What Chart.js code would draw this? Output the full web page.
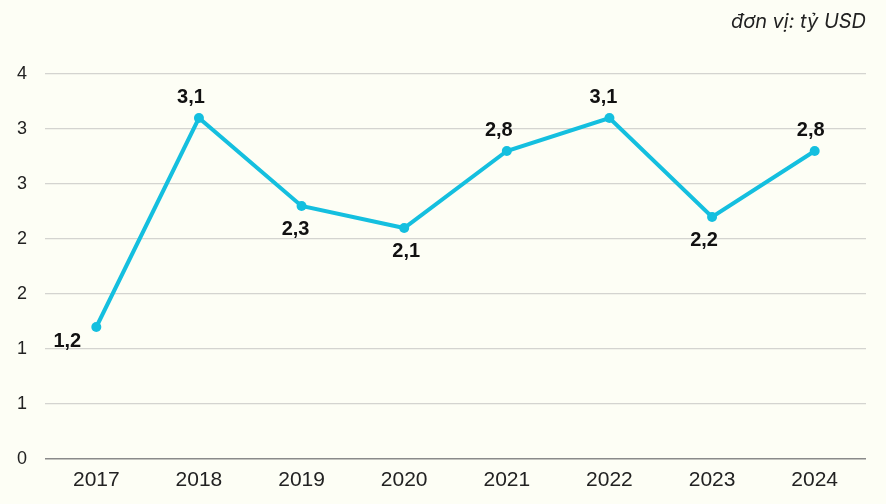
<!DOCTYPE html>
<html>
<head>
<meta charset="utf-8">
<script src="https://cdn.jsdelivr.net/npm/chart.js@4"></script>
<style>
html,body{margin:0;padding:0;background:#FDFEF5;}
#wrap{position:relative;width:886px;height:504px;}
</style>
</head>
<body>
<div id="wrap"><canvas id="c" width="886" height="504"></canvas></div>
<script>
const categories = ['2017','2018','2019','2020','2021','2022','2023','2024'];
const values = [1.2, 3.1, 2.3, 2.1, 2.8, 3.1, 2.2, 2.8];
const labelSides = ['left','top','bottom','bottom','top','top','bottom','top'];
const unitText = 'đơn vị: tỷ USD';

const bgPlugin = {
  id: 'bg',
  beforeDraw(chart) {
    const ctx = chart.ctx;
    ctx.save();
    ctx.fillStyle = '#FDFEF5';
    ctx.fillRect(0, 0, chart.width, chart.height);
    ctx.restore();
  }
};

const valueLabels = {
  id: 'valueLabels',
  afterDatasetsDraw(chart, args, opts) {
    const ctx = chart.ctx;
    const meta = chart.getDatasetMeta(0);
    const nudge = opts.nudge || [];
    ctx.save();
    ctx.font = 'bold 20px "Liberation Sans", Arial, sans-serif';
    ctx.fillStyle = '#111';
    ctx.textAlign = 'center';
    ctx.textBaseline = 'middle';
    meta.data.forEach((pt, i) => {
      const txt = values[i].toFixed(1).replace('.', ',');
      let x = pt.x + (nudge[i] || 0), y = pt.y;
      const side = labelSides[i];
      if (side === 'top') y -= 21;
      else if (side === 'bottom') y += 23;
      else if (side === 'left') y += 14;
      ctx.fillText(txt, x, y);
    });
    ctx.restore();
  }
};

new Chart(document.getElementById('c'), {
  type: 'line',
  data: {
    labels: categories,
    datasets: [{
      data: values,
      borderColor: '#14BFDF',
      backgroundColor: '#14BFDF',
      borderWidth: 4,
      pointRadius: 5,
      pointHoverRadius: 5,
      pointBackgroundColor: '#14BFDF',
      pointBorderWidth: 0,
      tension: 0
    }]
  },
  options: {
    responsive: false,
    animation: false,
    layout: { padding: { left: 0, right: 20, top: 0, bottom: 0 } },
    plugins: {
      legend: { display: false },
      tooltip: { enabled: false },
      valueLabels: { nudge: [-29, -8, -6, 2, -8, -6, -8, -4] },
      title: {
        display: true,
        text: unitText,
        align: 'end',
        color: '#222',
        font: { family: 'Inter, "Open Sans", "Liberation Sans", Arial, sans-serif', size: 20, style: 'italic', weight: 'normal' },
        padding: { top: 10, bottom: 40 }
      }
    },
    scales: {
      x: {
        offset: true,
        grid: { display: false, drawTicks: false },
        border: { display: false },
        ticks: { color: '#222', padding: 9, font: { family: '"Liberation Sans", Arial, sans-serif', size: 21 } },
        afterFit(s) { s.height = 45; }
      },
      y: {
        min: 0,
        max: 3.5,
        grid: {
          drawTicks: false,
          color: (c) => c.tick && c.tick.value === 0 ? '#8a8a8a' : '#d4d4d0',
          lineWidth: (c) => c.tick && c.tick.value === 0 ? 1.5 : 1.2
        },
        border: { display: false },
        ticks: {
          stepSize: 0.5,
          padding: 18,
          color: '#222',
          font: { family: '"Liberation Sans", Arial, sans-serif', size: 18 },
          callback: (v) => String(Math.round(v))
        },
        afterFit(s) { s.width = 45; }
      }
    }
  },
  plugins: [bgPlugin, valueLabels]
});
</script>
</body>
</html>
